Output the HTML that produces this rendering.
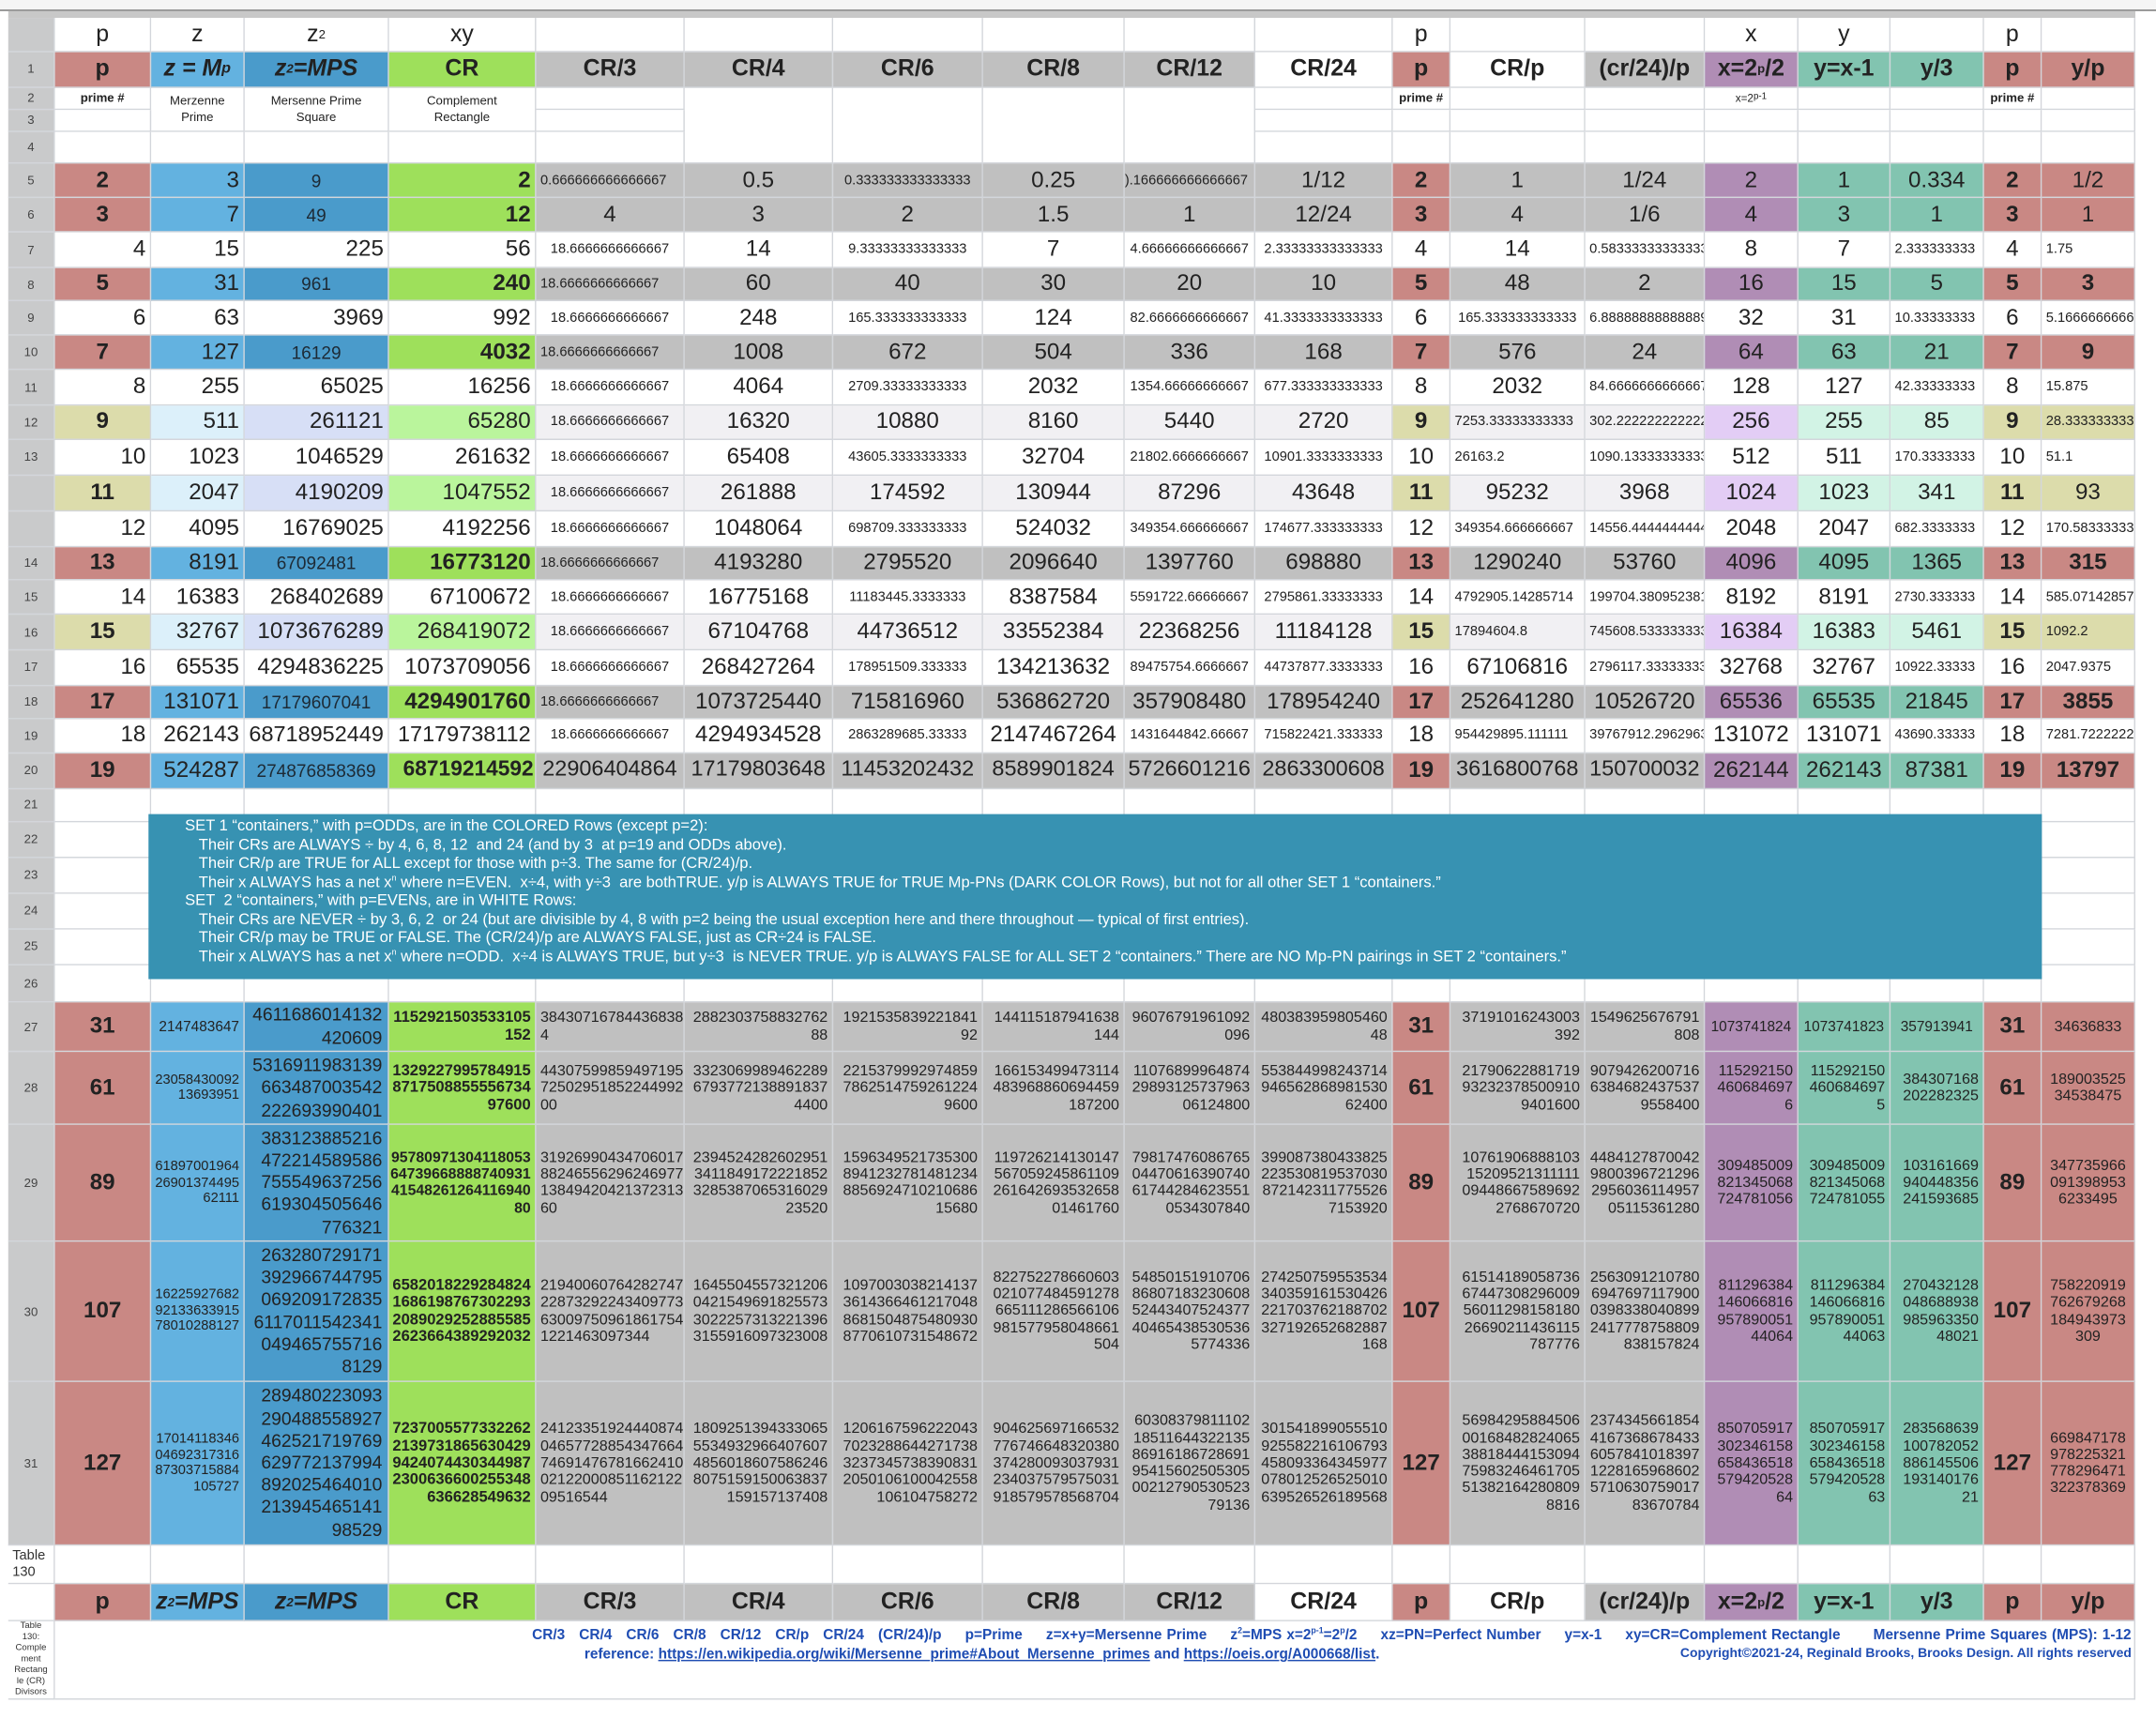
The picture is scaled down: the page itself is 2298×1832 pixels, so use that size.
<!DOCTYPE html>
<html><head><meta charset="utf-8">
<style>
html,body{margin:0;padding:0;background:#fff;}
body{width:2298px;height:1832px;overflow:hidden;position:relative;}
#w{position:absolute;left:0;top:0;width:1568px;height:1250px;transform:scale(1.46556);transform-origin:0 0;font-family:"Liberation Sans",sans-serif;}
sup,sub{line-height:0;}
.g{position:absolute;left:6px;top:12.5px;display:grid;
grid-template-columns:34px 70px 68px 105px 107px 108px 108px 109px 103px 95px 100px 42px 98px 87px 68px 67px 68px 42px 68px;
grid-template-rows:25px 26.2px 16px 16px 23.7px 24.3px 25.7px 25.6px 24.5px 25px 25px 25.4px 25.1px 26px 26px 25.6px 24.3px 25.5px 25.6px 25.6px 24.4px 25px 26px 24px 26px 26px 26px 26px 27px 36.5px 53px 84.8px 101.6px 119.6px 27.9px 26.5px 57.5px;
color:#222;}
.g>div{box-sizing:border-box;border-right:1px solid #d3d6db;border-bottom:1px solid #d3d6db;overflow:hidden;white-space:nowrap;display:flex;align-items:center;justify-content:flex-end;padding:0 3px;font-size:16.5px;background:#fff;}
.g>div.c{justify-content:center;}
.g>div.l{justify-content:flex-start;}
.b{font-weight:bold;}
.g>div.s{font-size:10px;}
.g>div.n{font-size:9px;color:#444;justify-content:center;background:#c9cacb;padding:0;}
.g>div.nw{font-size:9px;color:#333;justify-content:center;background:#fff;padding:0;}
.g>div.z{font-size:13px;justify-content:center;color:#1d2a35;}
.g>div.m{font-size:11px;line-height:12.3px;}
.m span{text-align:right;}
.l span{text-align:left;}
.c span{text-align:center;}
.g>div.m.zz{font-size:13.2px;line-height:16.2px;padding-right:4px;}
.g>div.m.zs{font-size:10px;line-height:11.5px;}
.g>div.h{font-size:17px;font-weight:bold;justify-content:center;}
.g>div.hi{font-style:italic;}
.g>div.R{background:#c98884;}
.g>div.LB{background:#63b2e0;}
.g>div.B{background:#4a9bcb;}
.g>div.G{background:#9ee05b;}
.g>div.GR{background:#c0c0c0;}
.g>div.P{background:#b08db5;}
.g>div.T{background:#82c4b0;}
.g>div.Y{background:#dcdcab;}
.g>div.LLB{background:#dcf0fa;}
.g>div.LZ{background:#d7dff6;}
.g>div.LG{background:#baf59c;}
.g>div.LGR{background:#f1f0f3;}
.g>div.LP{background:#e3cdf5;}
.g>div.LT{background:#d2f3e5;}
.tb{position:absolute;left:108px;top:591.6px;width:1377px;height:120px;background:#3792b2;color:#fff;font-size:11.3px;line-height:13.5px;box-sizing:border-box;padding:3.5px 0 0 26.5px;white-space:nowrap;}
.tb div{height:13.5px;}
.tb .i{padding-left:10px;}
.ft{position:absolute;color:#1f4db3;font-weight:bold;font-size:10.5px;white-space:nowrap;}
.ft u{text-decoration:underline;}
</style></head><body><div id="w">
<div style="position:absolute;left:0;top:0;width:1568px;height:7px;background:#f5f5f5;"></div>
<div style="position:absolute;left:0;top:7px;width:1568px;height:1px;background:#777;"></div>
<div style="position:absolute;left:6px;top:8px;width:1547px;height:4.5px;background:#c8c8c8;"></div>
<div class="g">
<!-- header -->
<div class="n"></div><div class="c" style="font-size:17px">p</div><div class="c" style="font-size:17px">z</div><div class="c" style="font-size:17px">z<sup style="font-size:9px">2</sup></div><div class="c" style="font-size:17px">xy</div><div></div><div></div><div></div><div></div><div></div><div></div><div class="c" style="font-size:17px">p</div><div></div><div></div><div class="c" style="font-size:17px">x</div><div class="c" style="font-size:17px">y</div><div></div><div class="c" style="font-size:17px">p</div><div></div>
<!-- row 1 -->
<div class="n">1</div><div class="R h">p</div><div class="LB h hi">z = M<sub style="font-size:11px">p</sub></div><div class="B h hi">z<sup style="font-size:9px">2</sup>=MPS</div><div class="G h">CR</div><div class="GR h">CR/3</div><div class="GR h">CR/4</div><div class="GR h">CR/6</div><div class="GR h">CR/8</div><div class="GR h">CR/12</div><div class="h">CR/24</div><div class="R h">p</div><div class="h">CR/p</div><div class="GR h">(cr/24)/p</div><div class="P h">x=2<sup style="font-size:9px">p</sup>/2</div><div class="T h">y=x-1</div><div class="T h">y/3</div><div class="R h">p</div><div class="R h">y/p</div>
<!-- rows 2-4 -->
<div class="n">2</div><div class="c b" style="font-size:9px">prime #</div><div class="c" style="grid-row:span 2;font-size:9px;line-height:12px"><span>Merzenne<br>Prime</span></div><div class="c" style="grid-row:span 2;font-size:9px;line-height:12px"><span>Mersenne Prime<br>Square</span></div><div class="c" style="grid-row:span 2;font-size:9px;line-height:12px"><span>Complement<br>Rectangle</span></div><div></div><div style="grid-row:span 3"></div><div style="grid-row:span 3"></div><div style="grid-row:span 3"></div><div style="grid-row:span 3"></div><div></div><div class="c b" style="font-size:9px">prime #</div><div></div><div></div><div class="c" style="font-size:8px">x=2<sup>p-1</sup></div><div></div><div></div><div class="c b" style="font-size:9px">prime #</div><div></div>
<div class="n">3</div><div></div><div></div><div></div><div></div><div></div><div></div><div></div><div></div><div></div><div></div><div></div>
<div class="n">4</div><div></div><div></div><div></div><div></div><div></div><div></div><div></div><div></div><div></div><div></div><div></div><div></div><div></div><div></div>
<!-- r5 -->
<div class="n">5</div><div class="R c b">2</div><div class="LB">3</div><div class="B z">9</div><div class="G b">2</div><div class="GR s l">0.666666666666667</div><div class="GR c">0.5</div><div class="GR c s">0.333333333333333</div><div class="GR c">0.25</div><div class="GR s l" style="padding:0">).166666666666667</div><div class="GR c">1/12</div><div class="R c b">2</div><div class="GR c">1</div><div class="GR c">1/24</div><div class="P c">2</div><div class="T c">1</div><div class="T c">0.334</div><div class="R c b">2</div><div class="R c">1/2</div>
<!-- r6 -->
<div class="n">6</div><div class="R c b">3</div><div class="LB">7</div><div class="B z">49</div><div class="G b">12</div><div class="GR c">4</div><div class="GR c">3</div><div class="GR c">2</div><div class="GR c">1.5</div><div class="GR c">1</div><div class="GR c">12/24</div><div class="R c b">3</div><div class="GR c">4</div><div class="GR c">1/6</div><div class="P c">4</div><div class="T c">3</div><div class="T c">1</div><div class="R c b">3</div><div class="R c">1</div>
<!-- r7 -->
<div class="n">7</div><div>4</div><div>15</div><div>225</div><div>56</div><div class="c s">18.6666666666667</div><div class="c">14</div><div class="c s">9.33333333333333</div><div class="c">7</div><div class="c s">4.66666666666667</div><div class="c s">2.33333333333333</div><div class="c">4</div><div class="c">14</div><div class="l s">0.583333333333333</div><div class="c">8</div><div class="c">7</div><div class="l s">2.333333333</div><div class="c">4</div><div class="l s">1.75</div>
<!-- r8 -->
<div class="n">8</div><div class="R c b">5</div><div class="LB">31</div><div class="B z">961</div><div class="G b">240</div><div class="GR s l">18.6666666666667</div><div class="GR c">60</div><div class="GR c">40</div><div class="GR c">30</div><div class="GR c">20</div><div class="GR c">10</div><div class="R c b">5</div><div class="GR c">48</div><div class="GR c">2</div><div class="P c">16</div><div class="T c">15</div><div class="T c">5</div><div class="R c b">5</div><div class="R c b">3</div>
<!-- r9 -->
<div class="n">9</div><div>6</div><div>63</div><div>3969</div><div>992</div><div class="c s">18.6666666666667</div><div class="c">248</div><div class="c s">165.333333333333</div><div class="c">124</div><div class="c s">82.6666666666667</div><div class="c s">41.3333333333333</div><div class="c">6</div><div class="c s">165.333333333333</div><div class="l s">6.88888888888889</div><div class="c">32</div><div class="c">31</div><div class="l s">10.33333333</div><div class="c">6</div><div class="l s">5.16666666666667</div>
<!-- r10 -->
<div class="n">10</div><div class="R c b">7</div><div class="LB">127</div><div class="B z">16129</div><div class="G b">4032</div><div class="GR s l">18.6666666666667</div><div class="GR c">1008</div><div class="GR c">672</div><div class="GR c">504</div><div class="GR c">336</div><div class="GR c">168</div><div class="R c b">7</div><div class="GR c">576</div><div class="GR c">24</div><div class="P c">64</div><div class="T c">63</div><div class="T c">21</div><div class="R c b">7</div><div class="R c b">9</div>
<!-- r11 -->
<div class="n">11</div><div>8</div><div>255</div><div>65025</div><div>16256</div><div class="c s">18.6666666666667</div><div class="c">4064</div><div class="c s">2709.33333333333</div><div class="c">2032</div><div class="c s">1354.66666666667</div><div class="c s">677.333333333333</div><div class="c">8</div><div class="c">2032</div><div class="l s">84.6666666666667</div><div class="c">128</div><div class="c">127</div><div class="l s">42.33333333</div><div class="c">8</div><div class="l s">15.875</div>
<!-- r12 -->
<div class="n">12</div><div class="Y c b">9</div><div class="LLB">511</div><div class="LZ">261121</div><div class="LG">65280</div><div class="LGR c s">18.6666666666667</div><div class="LGR c">16320</div><div class="LGR c">10880</div><div class="LGR c">8160</div><div class="LGR c">5440</div><div class="LGR c">2720</div><div class="Y c b">9</div><div class="LGR l s">7253.33333333333</div><div class="LGR l s">302.222222222222</div><div class="LP c">256</div><div class="LT c">255</div><div class="LT c">85</div><div class="Y c b">9</div><div class="Y l s">28.3333333333</div>
<!-- r13 -->
<div class="n">13</div><div>10</div><div>1023</div><div>1046529</div><div>261632</div><div class="c s">18.6666666666667</div><div class="c">65408</div><div class="c s">43605.3333333333</div><div class="c">32704</div><div class="c s">21802.6666666667</div><div class="c s">10901.3333333333</div><div class="c">10</div><div class="l s">26163.2</div><div class="l s">1090.13333333333</div><div class="c">512</div><div class="c">511</div><div class="l s">170.3333333</div><div class="c">10</div><div class="l s">51.1</div>
<!-- blank (11) -->
<div class="n"></div><div class="Y c b">11</div><div class="LLB">2047</div><div class="LZ">4190209</div><div class="LG">1047552</div><div class="LGR c s">18.6666666666667</div><div class="LGR c">261888</div><div class="LGR c">174592</div><div class="LGR c">130944</div><div class="LGR c">87296</div><div class="LGR c">43648</div><div class="Y c b">11</div><div class="LGR c">95232</div><div class="LGR c">3968</div><div class="LP c">1024</div><div class="LT c">1023</div><div class="LT c">341</div><div class="Y c b">11</div><div class="Y c">93</div>
<!-- blank (12) -->
<div class="n"></div><div>12</div><div>4095</div><div>16769025</div><div>4192256</div><div class="c s">18.6666666666667</div><div class="c">1048064</div><div class="c s">698709.333333333</div><div class="c">524032</div><div class="c s">349354.666666667</div><div class="c s">174677.333333333</div><div class="c">12</div><div class="l s">349354.666666667</div><div class="l s">14556.4444444444</div><div class="c">2048</div><div class="c">2047</div><div class="l s">682.3333333</div><div class="c">12</div><div class="l s">170.583333333</div>
<!-- r14 -->
<div class="n">14</div><div class="R c b">13</div><div class="LB">8191</div><div class="B z">67092481</div><div class="G b">16773120</div><div class="GR s l">18.6666666666667</div><div class="GR c">4193280</div><div class="GR c">2795520</div><div class="GR c">2096640</div><div class="GR c">1397760</div><div class="GR c">698880</div><div class="R c b">13</div><div class="GR c">1290240</div><div class="GR c">53760</div><div class="P c">4096</div><div class="T c">4095</div><div class="T c">1365</div><div class="R c b">13</div><div class="R c b">315</div>
<!-- r15 -->
<div class="n">15</div><div>14</div><div>16383</div><div>268402689</div><div>67100672</div><div class="c s">18.6666666666667</div><div class="c">16775168</div><div class="c s">11183445.3333333</div><div class="c">8387584</div><div class="c s">5591722.66666667</div><div class="c s">2795861.33333333</div><div class="c">14</div><div class="l s">4792905.14285714</div><div class="l s">199704.380952381</div><div class="c">8192</div><div class="c">8191</div><div class="l s">2730.333333</div><div class="c">14</div><div class="l s">585.071428571</div>
<!-- r16 -->
<div class="n">16</div><div class="Y c b">15</div><div class="LLB">32767</div><div class="LZ">1073676289</div><div class="LG">268419072</div><div class="LGR c s">18.6666666666667</div><div class="LGR c">67104768</div><div class="LGR c">44736512</div><div class="LGR c">33552384</div><div class="LGR c">22368256</div><div class="LGR c">11184128</div><div class="Y c b">15</div><div class="LGR l s">17894604.8</div><div class="LGR l s">745608.533333333</div><div class="LP c">16384</div><div class="LT c">16383</div><div class="LT c">5461</div><div class="Y c b">15</div><div class="Y l s">1092.2</div>
<!-- r17 -->
<div class="n">17</div><div>16</div><div>65535</div><div>4294836225</div><div>1073709056</div><div class="c s">18.6666666666667</div><div class="c">268427264</div><div class="c s">178951509.333333</div><div class="c">134213632</div><div class="c s">89475754.6666667</div><div class="c s">44737877.3333333</div><div class="c">16</div><div class="c">67106816</div><div class="l s">2796117.33333333</div><div class="c">32768</div><div class="c">32767</div><div class="l s">10922.33333</div><div class="c">16</div><div class="l s">2047.9375</div>
<!-- r18 -->
<div class="n">18</div><div class="R c b">17</div><div class="LB">131071</div><div class="B z">17179607041</div><div class="G b">4294901760</div><div class="GR s l">18.6666666666667</div><div class="GR c">1073725440</div><div class="GR c">715816960</div><div class="GR c">536862720</div><div class="GR c">357908480</div><div class="GR c">178954240</div><div class="R c b">17</div><div class="GR c">252641280</div><div class="GR c">10526720</div><div class="P c">65536</div><div class="T c">65535</div><div class="T c">21845</div><div class="R c b">17</div><div class="R c b">3855</div>
<!-- r19 -->
<div class="n">19</div><div>18</div><div>262143</div><div style="font-size:16px">68718952449</div><div style="font-size:16px">17179738112</div><div class="c s">18.6666666666667</div><div class="c">4294934528</div><div class="c s">2863289685.33333</div><div class="c">2147467264</div><div class="c s">1431644842.66667</div><div class="c s">715822421.333333</div><div class="c">18</div><div class="l s">954429895.111111</div><div class="l s">39767912.2962963</div><div class="c">131072</div><div class="c">131071</div><div class="l s">43690.33333</div><div class="c">18</div><div class="l s">7281.72222222</div>
<!-- r20 -->
<div class="n">20</div><div class="R c b">19</div><div class="LB">524287</div><div class="B z">274876858369</div><div class="G b" style="font-size:15.5px;padding:0 1px">68719214592</div><div class="GR c" style="font-size:16px;padding:0">22906404864</div><div class="GR c" style="font-size:16px;padding:0">17179803648</div><div class="GR c" style="font-size:16px;padding:0">11453202432</div><div class="GR c" style="font-size:16px;padding:0">8589901824</div><div class="GR c" style="font-size:16px;padding:0">5726601216</div><div class="GR c" style="font-size:16px;padding:0">2863300608</div><div class="R c b">19</div><div class="GR c" style="font-size:16px;padding:0">3616800768</div><div class="GR c" style="font-size:16px;padding:0">150700032</div><div class="P c">262144</div><div class="T c">262143</div><div class="T c">87381</div><div class="R c b">19</div><div class="R c b">13797</div>
<!-- rows 21-26 -->
<div class="n">21</div><div></div><div></div><div></div><div></div><div></div><div></div><div></div><div></div><div></div><div></div><div></div><div></div><div></div><div></div><div></div><div></div><div></div><div></div>
<div class="n">22</div><div></div><div></div><div></div><div></div><div></div><div></div><div></div><div></div><div></div><div></div><div></div><div></div><div></div><div></div><div></div><div></div><div></div><div></div>
<div class="n">23</div><div></div><div></div><div></div><div></div><div></div><div></div><div></div><div></div><div></div><div></div><div></div><div></div><div></div><div></div><div></div><div></div><div></div><div></div>
<div class="n">24</div><div></div><div></div><div></div><div></div><div></div><div></div><div></div><div></div><div></div><div></div><div></div><div></div><div></div><div></div><div></div><div></div><div></div><div></div>
<div class="n">25</div><div></div><div></div><div></div><div></div><div></div><div></div><div></div><div></div><div></div><div></div><div></div><div></div><div></div><div></div><div></div><div></div><div></div><div></div>
<div class="n">26</div><div></div><div></div><div></div><div></div><div></div><div></div><div></div><div></div><div></div><div></div><div></div><div></div><div></div><div></div><div></div><div></div><div></div><div></div>
<!-- r27 -->
<div class="n">27</div><div class="R c b">31</div><div class="LB m" style="font-size:10.5px">2147483647</div><div class="B m zz"><span>4611686014132<br>420609</span></div><div class="G m b" style="font-size:11.3px"><span>1152921503533105<br>152</span></div><div class="GR m l"><span>38430716784436838<br>4</span></div><div class="GR m"><span>2882303758832762<br>88</span></div><div class="GR m"><span>1921535839221841<br>92</span></div><div class="GR m"><span>144115187941638<br>144</span></div><div class="GR m"><span>96076791961092<br>096</span></div><div class="GR m"><span>480383959805460<br>48</span></div><div class="R c b">31</div><div class="GR m"><span>37191016243003<br>392</span></div><div class="GR m"><span>1549625676791<br>808</span></div><div class="P m c" style="font-size:10.5px;padding:0">1073741824</div><div class="T m c" style="font-size:10.5px;padding:0">1073741823</div><div class="T m c" style="font-size:10.5px;padding:0">357913941</div><div class="R c b">31</div><div class="R m c">34636833</div>
<!-- r28 -->
<div class="n">28</div><div class="R c b">61</div><div class="LB m zs"><span>23058430092<br>13693951</span></div><div class="B m zz"><span>5316911983139<br>663487003542<br>222693990401</span></div><div class="G m b" style="font-size:11.3px"><span>1329227995784915<br>8717508855556734<br>97600</span></div><div class="GR m l"><span>44307599859497195<br>72502951852244992<br>00</span></div><div class="GR m"><span>3323069989462289<br>6793772138891837<br>4400</span></div><div class="GR m"><span>2215379992974859<br>7862514759261224<br>9600</span></div><div class="GR m"><span>166153499473114<br>483968860694459<br>187200</span></div><div class="GR m"><span>11076899964874<br>29893125737963<br>06124800</span></div><div class="GR m"><span>553844998243714<br>946562868981530<br>62400</span></div><div class="R c b">61</div><div class="GR m"><span>21790622881719<br>93232378500910<br>9401600</span></div><div class="GR m"><span>9079426200716<br>6384682437537<br>9558400</span></div><div class="P m"><span>115292150<br>460684697<br>6</span></div><div class="T m"><span>115292150<br>460684697<br>5</span></div><div class="T m"><span>384307168<br>202282325</span></div><div class="R c b">61</div><div class="R m c"><span>189003525<br>34538475</span></div>
<!-- r29 -->
<div class="n">29</div><div class="R c b">89</div><div class="LB m zs"><span>61897001964<br>26901374495<br>62111</span></div><div class="B m zz"><span>383123885216<br>472214589586<br>755549637256<br>619304505646<br>776321</span></div><div class="G m b" style="font-size:10.8px"><span>95780971304118053<br>64739668888740931<br>41548261264116940<br>80</span></div><div class="GR m l"><span>31926990434706017<br>88246556296246977<br>13849420421372313<br>60</span></div><div class="GR m"><span>2394524282602951<br>3411849172221852<br>3285387065316029<br>23520</span></div><div class="GR m"><span>1596349521735300<br>8941232781481234<br>8856924710210686<br>15680</span></div><div class="GR m"><span>119726214130147<br>567059245861109<br>261642693532658<br>01461760</span></div><div class="GR m"><span>79817476086765<br>04470616390740<br>61744284623551<br>0534307840</span></div><div class="GR m"><span>399087380433825<br>223530819537030<br>872142311775526<br>7153920</span></div><div class="R c b">89</div><div class="GR m"><span>10761906888103<br>15209521311111<br>09448667589692<br>2768670720</span></div><div class="GR m"><span>4484127870042<br>9800396721296<br>2956036114957<br>05115361280</span></div><div class="P m"><span>309485009<br>821345068<br>724781056</span></div><div class="T m"><span>309485009<br>821345068<br>724781055</span></div><div class="T m"><span>103161669<br>940448356<br>241593685</span></div><div class="R c b">89</div><div class="R m c"><span>347735966<br>091398953<br>6233495</span></div>
<!-- r30 -->
<div class="n">30</div><div class="R c b">107</div><div class="LB m zs"><span>16225927682<br>92133633915<br>78010288127</span></div><div class="B m zz"><span>263280729171<br>392966744795<br>069209172835<br>6117011542341<br>049465755716<br>8129</span></div><div class="G m b" style="font-size:11.3px"><span>6582018229284824<br>1686198767302293<br>2089029252885585<br>2623664389292032</span></div><div class="GR m l"><span>21940060764282747<br>22873292243409773<br>63009750961861754<br>1221463097344</span></div><div class="GR m"><span>1645504557321206<br>0421549691825573<br>3022257313221396<br>3155916097323008</span></div><div class="GR m"><span>1097003038214137<br>3614366461217048<br>8681504875480930<br>8770610731548672</span></div><div class="GR m"><span>822752278660603<br>021077484591278<br>665111286566106<br>981577958048661<br>504</span></div><div class="GR m"><span>54850151910706<br>86807183230608<br>52443407524377<br>40465438530536<br>5774336</span></div><div class="GR m"><span>274250759553534<br>340359161530426<br>221703762188702<br>327192652682887<br>168</span></div><div class="R c b">107</div><div class="GR m"><span>61514189058736<br>67447308296009<br>56011298158180<br>26690211436115<br>787776</span></div><div class="GR m"><span>2563091210780<br>6947697117900<br>0398338040899<br>2417778758809<br>838157824</span></div><div class="P m"><span>811296384<br>146066816<br>957890051<br>44064</span></div><div class="T m"><span>811296384<br>146066816<br>957890051<br>44063</span></div><div class="T m"><span>270432128<br>048688938<br>985963350<br>48021</span></div><div class="R c b">107</div><div class="R m c"><span>758220919<br>762679268<br>184943973<br>309</span></div>
<!-- r31 -->
<div class="n">31</div><div class="R c b">127</div><div class="LB m zs"><span>17014118346<br>04692317316<br>87303715884<br>105727</span></div><div class="B m zz"><span>289480223093<br>290488558927<br>462521719769<br>629772137994<br>892025464010<br>213945465141<br>98529</span></div><div class="G m b" style="font-size:11.3px"><span>7237005577332262<br>2139731865630429<br>9424074430344987<br>2300636600255348<br>636628549632</span></div><div class="GR m l"><span>24123351924440874<br>04657728854347664<br>74691476781662410<br>02122000851162122<br>09516544</span></div><div class="GR m"><span>1809251394333065<br>5534932966407607<br>4856018607586246<br>8075159150063837<br>159157137408</span></div><div class="GR m"><span>1206167596222043<br>7023288644271738<br>3237345738390831<br>2050106100042558<br>106104758272</span></div><div class="GR m"><span>904625697166532<br>776746648320380<br>374280093037931<br>234037579575031<br>918579578568704</span></div><div class="GR m"><span>60308379811102<br>18511644322135<br>86916186728691<br>95415602505305<br>00212790530523<br>79136</span></div><div class="GR m"><span>301541899055510<br>925582216106793<br>458093364345977<br>078012526525010<br>639526526189568</span></div><div class="R c b">127</div><div class="GR m"><span>56984295884506<br>00168482824065<br>38818444153094<br>75983246461705<br>51382164280809<br>8816</span></div><div class="GR m"><span>2374345661854<br>4167368678433<br>6057841018397<br>1228165968602<br>5710630759017<br>83670784</span></div><div class="P m"><span>850705917<br>302346158<br>658436518<br>579420528<br>64</span></div><div class="T m"><span>850705917<br>302346158<br>658436518<br>579420528<br>63</span></div><div class="T m"><span>283568639<br>100782052<br>886145506<br>193140176<br>21</span></div><div class="R c b">127</div><div class="R m c"><span>669847178<br>978225321<br>778296471<br>322378369</span></div>
<!-- Table 130 row -->
<div class="nw l" style="font-size:10px;line-height:12px;justify-content:flex-start;padding-left:3px"><span>Table<br>130</span></div><div></div><div></div><div></div><div></div><div></div><div></div><div></div><div></div><div></div><div></div><div></div><div></div><div></div><div></div><div></div><div></div><div></div><div></div>
<!-- footer header -->
<div class="nw"></div><div class="R h">p</div><div class="LB h hi">z<sup style="font-size:9px">2</sup>=MPS</div><div class="B h hi">z<sup style="font-size:9px">2</sup>=MPS</div><div class="G h">CR</div><div class="GR h">CR/3</div><div class="GR h">CR/4</div><div class="GR h">CR/6</div><div class="GR h">CR/8</div><div class="GR h">CR/12</div><div class="h">CR/24</div><div class="R h">p</div><div class="h">CR/p</div><div class="GR h">(cr/24)/p</div><div class="P h">x=2<sup style="font-size:9px">p</sup>/2</div><div class="T h">y=x-1</div><div class="T h">y/3</div><div class="R h">p</div><div class="R h">y/p</div>
<!-- last row -->
<div class="nw" style="font-size:6.5px;line-height:8px;"><span style="text-align:center">Table<br>130:<br>Comple<br>ment<br>Rectang<br>le (CR)<br>Divisors</span></div><div style="grid-column:span 18;border-right:1px solid #d3d6db"></div>
</div>
<div class="tb">
<div>SET 1 “containers,” with p=ODDs, are in the COLORED Rows (except p=2):</div>
<div class="i">Their CRs are ALWAYS ÷ by 4, 6, 8, 12&nbsp; and 24 (and by 3&nbsp; at p=19 and ODDs above).</div>
<div class="i">Their CR/p are TRUE for ALL except for those with p÷3. The same for (CR/24)/p.</div>
<div class="i">Their x ALWAYS has a net x<sup style="font-size:6px">n</sup> where n=EVEN.&nbsp; x÷4, with y÷3&nbsp; are bothTRUE. y/p is ALWAYS TRUE for TRUE Mp-PNs (DARK COLOR Rows), but not for all other SET 1 “containers.”</div>
<div>SET&nbsp; 2 “containers,” with p=EVENs, are in WHITE Rows:</div>
<div class="i">Their CRs are NEVER ÷ by 3, 6, 2&nbsp; or 24 (but are divisible by 4, 8 with p=2 being the usual exception here and there throughout — typical of first entries).</div>
<div class="i">Their CR/p may be TRUE or FALSE. The (CR/24)/p are ALWAYS FALSE, just as CR÷24 is FALSE.</div>
<div class="i">Their x ALWAYS has a net x<sup style="font-size:6px">n</sup> where n=ODD.&nbsp; x÷4 is ALWAYS TRUE, but y÷3&nbsp; is NEVER TRUE. y/p is ALWAYS FALSE for ALL SET 2 “containers.” There are NO Mp-PN pairings in SET 2 “containers.”</div>
</div>
<div class="ft" style="left:387px;top:1183px;width:1163px;text-align:justify;text-align-last:justify;">CR/3 &nbsp; CR/4 &nbsp; CR/6 &nbsp; CR/8 &nbsp; CR/12 &nbsp; CR/p &nbsp; CR/24 &nbsp; (CR/24)/p &nbsp; &nbsp; p=Prime &nbsp; &nbsp; z=x+y=Mersenne Prime &nbsp; &nbsp; z<sup style="font-size:6px">2</sup>=MPS x=2<sup style="font-size:6px">p-1</sup>=2<sup style="font-size:6px">p</sup>/2 &nbsp; &nbsp; xz=PN=Perfect Number &nbsp; &nbsp; y=x-1 &nbsp; &nbsp; xy=CR=Complement Rectangle &nbsp; &nbsp; &nbsp; Mersenne Prime Squares (MPS): 1-12</div>
<div class="ft" style="left:425px;top:1197px;">reference: <u>https://en.wikipedia.org/wiki/Mersenne_prime#About_Mersenne_primes</u> and <u>https://oeis.org/A000668/list</u>.</div>
<div class="ft" style="left:1222px;top:1197px;width:328px;text-align:right;font-size:9.5px">Copyright©2021-24, Reginald Brooks, Brooks Design. All rights reserved</div>
</div></body></html>
